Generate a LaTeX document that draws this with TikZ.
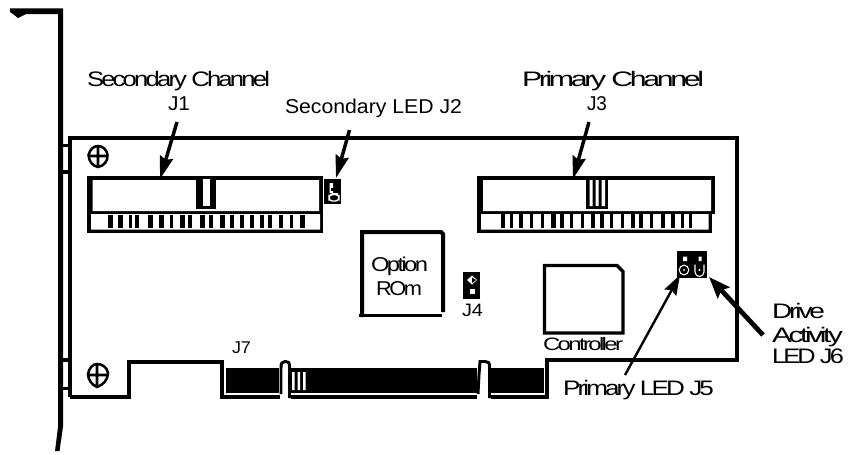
\documentclass[tikz,border=0pt]{standalone}
\usepackage{fontspec}
\usepackage{graphicx}
\setmainfont{Liberation Sans}
\newfontfamily\tightfont[LetterSpace=-11]{Liberation Sans}
\usetikzlibrary{arrows.meta}
\newsavebox\fitbox
\newcommand\fitto[2]{\sbox\fitbox{#2}\pgfmathsetmacro\fitr{(#1*0.75)/\the\wd\fitbox}\scalebox{\fitr}[1]{\usebox\fitbox}}
\newcommand\pxfont[1]{\pgfmathsetmacro\pxs{#1*0.75}\fontsize{\pxs}{\pxs}\selectfont}
\tikzset{
  lbl/.style={anchor=base west,inner sep=0pt,outer sep=0pt,text=black},
  edge/.style={draw=black,line width=3pt,line cap=butt,line join=miter},
  thinedge/.style={draw=black,line width=2.4pt,line join=miter},
  ptr/.style={draw=black,line width=2.6pt,-{Stealth[length=17pt,width=10pt,inset=2pt]}},
  ptrthin/.style={draw=black,line width=1.8pt,-{Stealth[length=15pt,width=10pt,inset=2pt]}},
  ptrthick/.style={draw=black,line width=3.6pt,-{Stealth[length=16pt,width=12pt,inset=2.5pt]}},
  screw/.style={draw=black,line width=1.9pt},
}
\begin{document}
\begin{tikzpicture}[x=0.75pt,y=-0.75pt]
\useasboundingbox (0,0) rectangle (849,454);
\fill[white] (0,0) rectangle (849,454);
% bracket
\fill (10,8.3) -- (63,8.3) -- (63,427) -- (59.5,451) -- (55,451) -- (58,427) -- (58,14) -- (26,14) -- (18,18) -- (13,14) -- (10,12) -- cycle;
\draw[edge,line width=2.4pt] (62,145.5) -- (70,145.5) (62,172) -- (70,172) (62,360) -- (70,360) (62,388.5) -- (70,388.5);
% board outline
\draw[edge] (70,397) -- (70,137.5) -- (737,137.5) -- (737,359.5) -- (547,359.5) -- (547,397) -- (491,397);
\draw[edge] (70,397) -- (129,397) -- (129,361.5) -- (221.5,361.5) -- (221.5,397) -- (280,397);
\draw[edge] (291,397) -- (477,397);
% edge connector
\fill (226,368) rectangle (279,393);
\fill (290,368) rectangle (477,393);
\fill (491,368) rectangle (544,393);
\fill[white] (292,372) rectangle (294.5,390) (297.5,372) rectangle (300,390) (303,372) rectangle (305.5,390);
\draw[line width=2.2pt] (289.5,398) -- (289.5,366) .. controls (289.5,362) and (288,361.5) .. (285,361.5) .. controls (282,361.5) and (281,363) .. (281,368) -- (281,394);
\draw[line width=2.2pt] (489.5,398) -- (489.5,366) .. controls (489.5,362.5) and (488,361.5) .. (485,361.5) -- (480,361.5) -- (479,375) -- (478,394);
% screws
\draw[screw] (88.5,155) .. controls (90,149) and (94,146) .. (98,146) .. controls (103,146) and (107,150) .. (107.5,155) .. controls (108,161) and (104,166) .. (98,167) .. controls (93,166) and (89,162) .. (88.5,155) -- cycle (98,146) -- (98,167) (88.5,156) -- (107.5,156);
\draw[screw] (88,374) .. controls (89,368) and (93,364) .. (97,364) .. controls (102,364) and (107,367) .. (108,373) .. controls (108,380) and (103,385) .. (97,387) .. controls (92,385) and (88,380) .. (88,374) -- cycle (97,364) -- (97,387) (88,375) -- (108,375);
% J1
\fill (87,176) rectangle (323,233);
\fill[white] (92.5,180) rectangle (319,211) (91,214) rectangle (320,229.5);
\fill (196,179) rectangle (216,209);
\fill[white] (203,179) rectangle (210,206);
\foreach \x/\w in {108/5,118/4.5,129/3,134.5/4,148/5,159/4.5,170/3,180/5,188/4,200/4.5,209/4,220/4.5,230/4,240/4,250/4,260/3.5,268/3.5,279/4,290/3,300/4.5}{\fill (\x,215) rectangle ({\x+\w},228);}
% J3
\fill (477,176) rectangle (715,214);
\fill (477,214) rectangle (712,233);
\fill[white] (483,180) rectangle (711,211) (481,214) rectangle (708.5,229.5);
\fill (586,179) rectangle (608,209);
\fill[white] (589.5,180) rectangle (592.5,206) (595.5,180) rectangle (598.5,206) (601.5,180) rectangle (605,206);
\foreach \x/\w in {501/4,510/3,519/4,530/3,541/3,551/5,560/4,570/3,581/3,591/4,600/4,610/3,621/3,631/4,639/4,650/3,661/4,671/4,681/3,689/3}{\fill (\x,214) rectangle ({\x+\w},228);}
% J2
\fill (324,179) rectangle (341,204);
\fill[white] (329.5,183) rectangle (333,193) -- (338,193) -- (338,195) -- (329.5,195) -- cycle;
\fill (331,188) rectangle (334.5,190.5);
\draw[white,line width=1.1pt,rounded corners=2.5pt] (329,194.5) rectangle (339,201);
% J4
\fill (463,272) rectangle (480,299);
\fill[white] (472,275.5) -- (477,280) -- (472,284.5) -- (467,280) -- cycle;
\fill[white] (469.5,288.5) rectangle (474.5,293.5);
\fill (472,277.5) -- (476,280) -- (472,283) -- cycle;
% J5 / J6
\fill (677,251) rectangle (707,278);
\fill[white] (683,256.5) rectangle (687,261) (698.5,256.5) rectangle (701.5,261);
\draw[white,line width=0.8pt] (684,270) circle[radius=4.8];
\fill[white] (684,270) circle[radius=1];
\draw[white,line width=0.8pt] (695,264.5) -- (695,272) arc[start angle=180,end angle=0,radius=4.5] -- (704,264.5);
\fill[white] (699.5,270) circle[radius=1.2];
% option rom
\draw[edge] (362,317) -- (362,232) -- (441,232) -- (443,234) -- (443,312);
\draw[edge,line width=2.6pt] (359,315.5) -- (442,315.5);
% controller
\draw[thinedge] (544.5,333) -- (544.5,265.5) -- (617,265.5) -- (623,271.5) -- (623,333) -- cycle;
% labels
\node[lbl] (secch) at (87,86) {\fitto{183}{\tightfont\pxfont{21}Secondary Channel}};
\node[lbl] (j1) at (168,110) {\fitto{22}{\pxfont{20}J1}};
\node[lbl] (secled) at (285,113) {\fitto{177}{\pxfont{20}Secondary LED J2}};
\node[lbl] (prich) at (522,86) {\fitto{182}{\tightfont\pxfont{21}Primary Channel}};
\node[lbl] (j3) at (587,110) {\fitto{20}{\pxfont{20}J3}};
\node[lbl] (opt) at (371,271) {\fitto{57}{\tightfont\pxfont{20}Option}};
\node[lbl] (rom) at (376,295) {\fitto{46}{\tightfont\pxfont{20}ROm}};
\node[lbl] (j4) at (462,316) {\fitto{21}{\pxfont{18}J4}};
\node[lbl] (j7) at (232,353) {\fitto{19}{\pxfont{17}J7}};
\node[lbl] (ctrl) at (543,350) {\fitto{80}{\tightfont\pxfont{18}Controller}};
\node[lbl] (prled) at (563,395) {\fitto{151}{\tightfont\pxfont{21}Primary LED J5}};
\node[lbl] (drv) at (772,318) {\fitto{53}{\tightfont\pxfont{21}Drive}};
\node[lbl] (act) at (772,342) {\fitto{71}{\tightfont\pxfont{21}Activity}};
\node[lbl] (led6) at (772,363) {\fitto{72}{\tightfont\pxfont{21}LED J6}};
% pointers
\coordinate (a1s) at (177,122); \coordinate (a1e) at (160,179);
\coordinate (a2s) at (349.5,130); \coordinate (a2e) at (336,178);
\coordinate (a3s) at (589,122); \coordinate (a3e) at (573,179);
\coordinate (a5s) at (625,375); \coordinate (a5e) at (680,275);
\coordinate (a6s) at (763,335); \coordinate (a6e) at (709,277);
\draw[ptr] (a1s) -- (a1e);
\draw[ptr] (a2s) -- (a2e);
\draw[ptr] (a3s) -- (a3e);
\draw[ptrthin] (a5s) -- (a5e);
\draw[ptrthick] (a6s) -- (a6e);
\end{tikzpicture}
\end{document}
